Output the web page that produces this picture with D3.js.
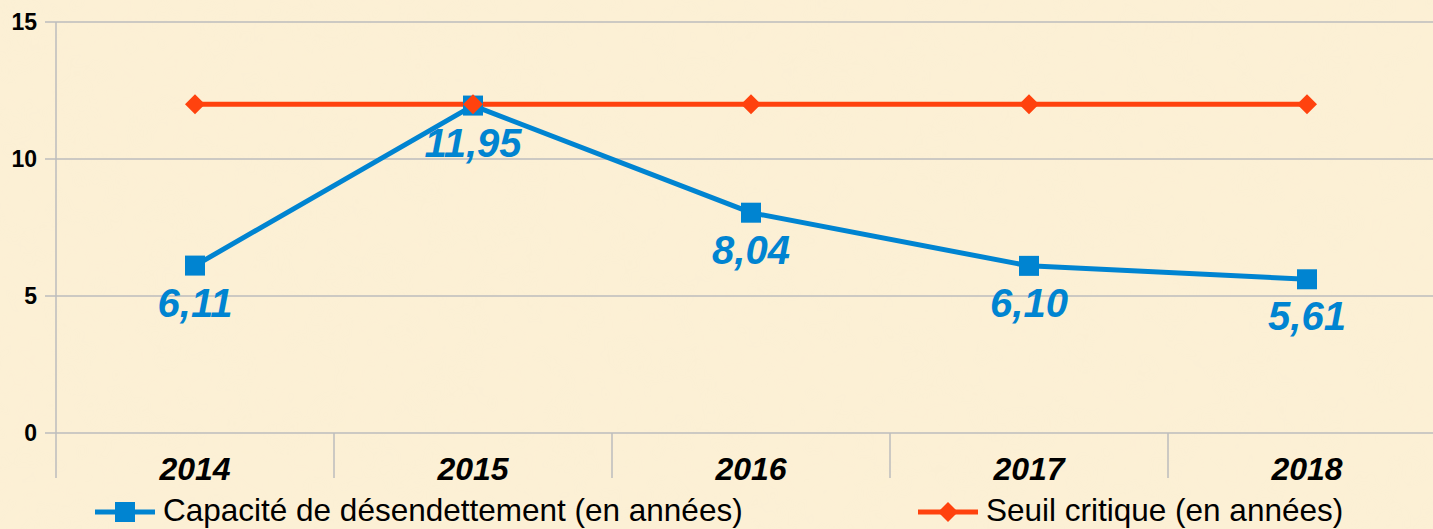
<!DOCTYPE html>
<html>
<head>
<meta charset="utf-8">
<script src="https://cdn.jsdelivr.net/npm/d3@7"></script>
<style>
  body { margin: 0; background: #fcefd3; }
  svg { display: block; font-family: "Liberation Sans", Arial, sans-serif; }
</style>
</head>
<body>
<script>
// data
var years = ["2014", "2015", "2016", "2017", "2018"];
var capacite = [6.11, 11.95, 8.04, 6.10, 5.61];
var seuil = [12, 12, 12, 12, 12];
var yTicks = [0, 5, 10, 15];
var seriesNames = ["Capacité de désendettement (en années)", "Seuil critique (en années)"];

var blue = "#0084d1", orange = "#ff420e";

var W = 1433, H = 529;
var margin = {left: 56, top: 22};
var bandW = 278;
var plotH = 411;

var svg = d3.select("body").append("svg")
    .attr("width", W)
    .attr("height", H);

// parchment-ish background
var defs = svg.append("defs");
var filt = defs.append("filter").attr("id", "paper");
filt.append("feTurbulence").attr("type", "fractalNoise")
    .attr("baseFrequency", "0.02").attr("numOctaves", 3).attr("seed", 4);
filt.append("feColorMatrix").attr("type", "matrix")
    .attr("values", "0 0 0 0 0.96  0 0 0 0 0.86  0 0 0 0 0.66  0 0 0 0.35 0");
svg.append("rect").attr("width", W).attr("height", H).attr("fill", "#fcf0d5");
svg.append("rect").attr("width", W).attr("height", H).attr("filter", "url(#paper)").attr("opacity", 0.5);

var x = d3.scaleBand().domain(years)
    .range([margin.left, margin.left + bandW * years.length]);
var y = d3.scaleLinear().domain([0, 15]).range([margin.top + plotH, margin.top]);

// horizontal grid + y ticks
svg.selectAll(".grid").data(yTicks).enter().append("line")
    .attr("x1", margin.left - 11).attr("x2", W)
    .attr("y1", function(d) { return y(d); })
    .attr("y2", function(d) { return y(d); })
    .attr("stroke", "#bdbdbd").attr("stroke-width", 1.5);

svg.selectAll(".ylab").data(yTicks).enter().append("text")
    .attr("x", 37)
    .attr("y", function(d) { return y(d) + 8; })
    .attr("text-anchor", "end")
    .attr("font-size", 23).attr("font-weight", "bold")
    .attr("fill", "#000")
    .text(function(d) { return d; });

// y axis line
svg.append("line")
    .attr("x1", margin.left).attr("x2", margin.left)
    .attr("y1", margin.top).attr("y2", y(0))
    .attr("stroke", "#bdbdbd").attr("stroke-width", 1.5);

// category separators
var seps = years.map(function(d) { return x(d); });
svg.selectAll(".sep").data(seps).enter().append("line")
    .attr("x1", function(d) { return d; }).attr("x2", function(d) { return d; })
    .attr("y1", y(0)).attr("y2", y(0) + 45)
    .attr("stroke", "#bdbdbd").attr("stroke-width", 1.5);

// category labels
svg.selectAll(".xlab").data(years).enter().append("text")
    .attr("x", function(d) { return x(d) + bandW / 2; })
    .attr("y", 480)
    .attr("text-anchor", "middle")
    .attr("font-size", 32).attr("font-weight", "bold").attr("font-style", "italic")
    .attr("fill", "#000")
    .text(function(d) { return d; });

var cx = function(d, i) { return x(years[i]) + bandW / 2; };

var line = d3.line()
    .x(function(d, i) { return cx(d, i); })
    .y(function(d) { return y(d); });

// capacite line
svg.append("path").datum(capacite)
    .attr("d", line).attr("fill", "none")
    .attr("stroke", blue).attr("stroke-width", 5).attr("stroke-linejoin", "round");

// seuil line
svg.append("path").datum(seuil)
    .attr("d", line).attr("fill", "none")
    .attr("stroke", orange).attr("stroke-width", 5);

// square markers
svg.selectAll(".sq").data(capacite).enter().append("rect")
    .attr("x", function(d, i) { return cx(d, i) - 10; })
    .attr("y", function(d) { return y(d) - 10; })
    .attr("width", 20).attr("height", 20)
    .attr("fill", blue);

// diamond markers
var diamond = "M0,-10L10,0L0,10L-10,0Z";
svg.selectAll(".dm").data(seuil).enter().append("path")
    .attr("d", diamond)
    .attr("transform", function(d, i) { return "translate(" + cx(d, i) + "," + y(d) + ")"; })
    .attr("fill", orange);

// data labels
svg.selectAll(".vlab").data(capacite).enter().append("text")
    .attr("x", function(d, i) { return cx(d, i); })
    .attr("y", function(d) { return y(d) + 51; })
    .attr("text-anchor", "middle")
    .attr("font-size", 40).attr("font-weight", "bold").attr("font-style", "italic")
    .attr("fill", blue)
    .text(function(d) { return d.toFixed(2).replace(".", ","); });

// legend
var leg = [
  {name: seriesNames[0], color: blue, x0: 95, shape: "square"},
  {name: seriesNames[1], color: orange, x0: 918, shape: "diamond"}
];
var ly = 512;
leg.forEach(function(l) {
  var g = svg.append("g");
  g.append("line").attr("x1", l.x0).attr("x2", l.x0 + 60)
    .attr("y1", ly).attr("y2", ly)
    .attr("stroke", l.color).attr("stroke-width", 5);
  if (l.shape == "square") {
    g.append("rect").attr("x", l.x0 + 20).attr("y", ly - 10)
      .attr("width", 20).attr("height", 20).attr("fill", l.color);
  } else {
    g.append("path").attr("d", diamond)
      .attr("transform", "translate(" + (l.x0 + 30) + "," + ly + ")")
      .attr("fill", l.color);
  }
  g.append("text").attr("x", l.x0 + 68).attr("y", 521)
    .attr("font-size", 31.5).attr("fill", "#000")
    .text(l.name);
});
</script>
</body>
</html>
